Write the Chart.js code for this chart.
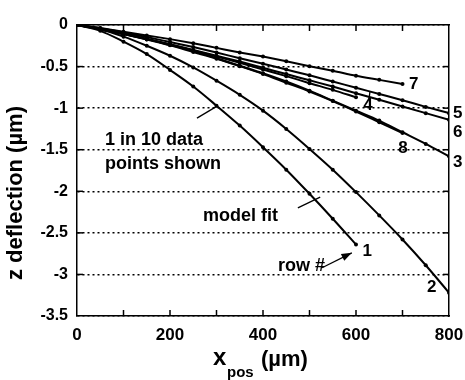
<!DOCTYPE html>
<html>
<head>
<meta charset="utf-8">
<script src="https://cdn.jsdelivr.net/npm/chart.js@4"></script>
<style>
  html, body { margin: 0; padding: 0; background: #fff; }
  #wrap { width: 465px; height: 380px; }
</style>
</head>
<body>
<div id="wrap"><canvas id="myChart" width="465" height="380"></canvas></div>
<script>
// x position along the beam (um), one value every 50 um
const xPos = [0, 50, 100, 150, 200, 250, 300, 350, 400, 450, 500, 550, 600, 650, 700, 750, 800];

// z deflection (um) for each row
const row1 = [0, -0.07, -0.20, -0.35, -0.54, -0.74, -0.97, -1.21, -1.47, -1.74, -2.03, -2.33, -2.64];
const row2 = [0, -0.05, -0.14, -0.25, -0.37, -0.51, -0.67, -0.84, -1.03, -1.25, -1.49, -1.74, -2.01, -2.29, -2.58, -2.89, -3.22];
const row3 = [0, -0.05, -0.11, -0.17, -0.24, -0.31, -0.40, -0.49, -0.58, -0.68, -0.79, -0.91, -1.03, -1.15, -1.29, -1.43, -1.58];
const row4 = [0, -0.05, -0.105, -0.17, -0.235, -0.305, -0.38, -0.455, -0.535, -0.615, -0.70, -0.78, -0.87];
const row5 = [0, -0.04, -0.09, -0.145, -0.205, -0.265, -0.33, -0.40, -0.465, -0.535, -0.605, -0.68, -0.755, -0.83, -0.905, -0.985, -1.06];
const row6 = [0, -0.045, -0.105, -0.165, -0.23, -0.30, -0.37, -0.44, -0.515, -0.59, -0.665, -0.74, -0.82, -0.90, -0.98, -1.06, -1.14];
const row7 = [0, -0.035, -0.08, -0.125, -0.17, -0.22, -0.275, -0.33, -0.38, -0.435, -0.495, -0.55, -0.61, -0.66, -0.71];
const row8 = [0, -0.055, -0.11, -0.175, -0.245, -0.325, -0.405, -0.495, -0.59, -0.695, -0.80, -0.915, -1.04, -1.17, -1.30];

const rows = [row1, row2, row3, row4, row5, row6, row7, row8];

// row number labels, placed in data units
const rowLabels = [
  {t: '1', x: 624, y: -2.72}, {t: '2', x: 763, y: -3.16}, {t: '3', x: 819, y: -1.65},
  {t: '4', x: 626, y: -0.97}, {t: '5', x: 819, y: -1.06}, {t: '6', x: 819, y: -1.29},
  {t: '7', x: 724, y: -0.71}, {t: '8', x: 701, y: -1.48}
];

const FONT = '"Liberation Sans", Arial, sans-serif';

const datasets = rows.map((r, i) => ({
  label: 'row ' + (i + 1),
  data: r.map((v, j) => ({x: xPos[j], y: v})),
  borderColor: '#000',
  backgroundColor: '#000',
  borderWidth: 2,
  pointRadius: 2,
  pointHoverRadius: 2,
  pointBorderWidth: 0,
  cubicInterpolationMode: 'monotone'
}));

// extra drawing: inward ticks, notes, arrows and axis titles
const extras = {
  id: 'extras',
  afterDraw(chart) {
    const {ctx, chartArea: a, scales: {x, y}} = chart;
    const line = (x1, y1, x2, y2) => {
      ctx.beginPath(); ctx.moveTo(x1, y1); ctx.lineTo(x2, y2); ctx.stroke();
    };
    const px = v => x.getPixelForValue(v);
    const py = v => y.getPixelForValue(v);
    ctx.save();
    ctx.strokeStyle = '#000';
    ctx.fillStyle = '#000';
    ctx.lineWidth = 1.5;

    for (let v = 100; v < 800; v += 100) {
      line(px(v), a.bottom, px(v), a.bottom - 6);
      line(px(v), a.top, px(v), a.top + 6);
    }
    for (let v = -0.5; v > -3.5; v -= 0.5) {
      line(a.left, py(v), a.left + 6, py(v));
      line(a.right, py(v), a.right - 6, py(v));
    }

    // pointer lines
    ctx.lineWidth = 1.3;
    line(px(258), py(-1.12), px(303), py(-0.97));
    line(px(475), py(-2.20), px(523), py(-2.07));
    line(px(628), py(-0.89), px(630), py(-0.80));
    // row # arrow
    const ax1 = px(527), ay1 = py(-2.92), ax2 = px(591), ay2 = py(-2.74);
    line(ax1, ay1, ax2, ay2);
    const ang = Math.atan2(ay2 - ay1, ax2 - ax1);
    ctx.beginPath();
    ctx.moveTo(ax2, ay2);
    ctx.lineTo(ax2 - 11 * Math.cos(ang - 0.35), ay2 - 11 * Math.sin(ang - 0.35));
    ctx.lineTo(ax2 - 11 * Math.cos(ang + 0.35), ay2 - 11 * Math.sin(ang + 0.35));
    ctx.closePath();
    ctx.fill();

    // row labels
    ctx.font = 'bold 17px ' + FONT;
    ctx.textAlign = 'center';
    ctx.textBaseline = 'middle';
    rowLabels.forEach(l => ctx.fillText(l.t, px(l.x), py(l.y)));

    // notes
    ctx.font = 'bold 18px ' + FONT;
    ctx.textAlign = 'left';
    ctx.fillText('1 in 10 data', px(60), py(-1.38));
    ctx.fillText('points shown', px(60), py(-1.67));
    ctx.fillText('model fit', px(271), py(-2.30));
    ctx.fillText('row #', px(432), py(-2.90));

    // axis titles
    ctx.save();
    ctx.translate(16, 193);
    ctx.rotate(-Math.PI / 2);
    ctx.textAlign = 'center';
    ctx.font = 'bold 22px ' + FONT;
    ctx.fillText('z deflection (\u00b5m)', 0, 0);
    ctx.restore();

    ctx.textBaseline = 'alphabetic';
    ctx.textAlign = 'left';
    ctx.font = 'bold 24px ' + FONT;
    ctx.fillText('x', 213, 365);
    ctx.font = 'bold 15px ' + FONT;
    ctx.fillText('pos', 227, 377);
    ctx.font = 'bold 22px ' + FONT;
    ctx.fillText('(\u00b5m)', 261, 366);
    ctx.restore();
  }
};

const noPad = s => { s.paddingLeft = 0; s.paddingRight = 0; s.paddingTop = 0; s.paddingBottom = 0; };

const config = {
  type: 'line',
  data: { datasets },
  options: {
    responsive: false,
    animation: false,
    events: [],
    layout: { padding: 0 },
    plugins: { legend: { display: false }, tooltip: { enabled: false } },
    scales: {
      x: {
        type: 'linear', position: 'bottom', min: 0, max: 800,
        afterFit: s => { s.height = 64; noPad(s); },
        ticks: { stepSize: 200, color: '#000', padding: 9, maxRotation: 0,
                 font: { family: FONT, size: 17, weight: 'bold' } },
        grid: { display: false, drawTicks: false },
        border: { display: true, color: '#000', width: 1.5 }
      },
      x2: {
        type: 'linear', position: 'top', min: 0, max: 800,
        afterFit: s => { s.height = 25; noPad(s); },
        ticks: { display: false },
        grid: { display: false, drawTicks: false },
        border: { display: true, color: '#000', width: 1.5 }
      },
      y: {
        type: 'linear', position: 'left', min: -3.5, max: 0,
        afterFit: s => { s.width = 77; noPad(s); },
        ticks: { stepSize: 0.5, color: '#000', padding: 9,
                 callback: v => String(v),
                 font: { family: FONT, size: 16, weight: 'bold' } },
        grid: { color: '#000', lineWidth: 1.5, drawTicks: false },
        border: { display: true, color: '#000', width: 1.5, dash: [2, 3] }
      },
      y2: {
        type: 'linear', position: 'right', min: -3.5, max: 0,
        afterFit: s => { s.width = 16; noPad(s); },
        ticks: { display: false },
        grid: { display: false, drawTicks: false },
        border: { display: true, color: '#000', width: 1.5 }
      }
    }
  },
  plugins: [extras]
};

const myChart = new Chart(document.getElementById('myChart'), config);
</script>
</body>
</html>
